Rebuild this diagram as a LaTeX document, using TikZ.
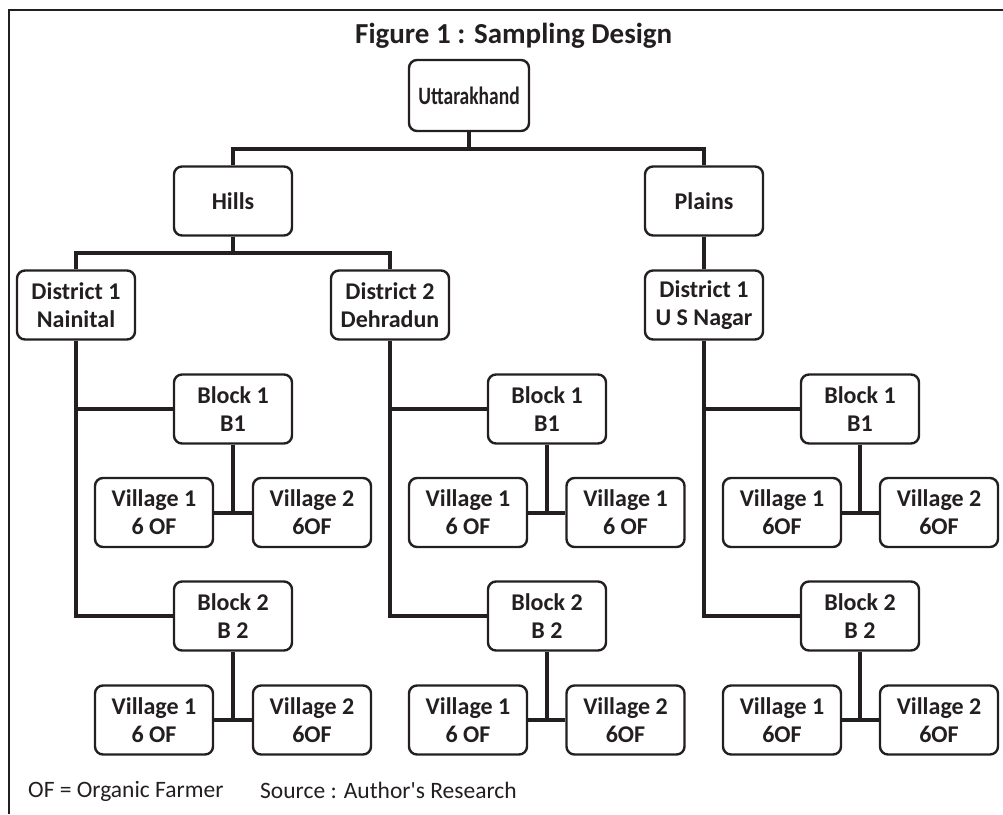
\documentclass[tikz,border=0pt]{standalone}
\usepackage{fontspec}
\setmainfont{Carlito}
\definecolor{ink}{HTML}{231F20}
\tikzset{
 box/.style={draw=ink,line width=2.4pt,rounded corners=8pt,minimum width=118pt,minimum height=69pt,
  inner sep=0pt,align=center,text=ink,font=\bfseries\fontsize{24}{28}\selectfont},
 link/.style={draw=ink,line width=4pt},
 note/.style={anchor=base west,text=ink,inner sep=0pt,font=\fontsize{23.5}{28}\selectfont}
}
\begin{document}
\begin{tikzpicture}[x=1pt,y=-1pt]
 \useasboundingbox (0,0) rectangle (1003,814);
 \draw[ink,line width=2.5pt] (9,814) -- (9,10) -- (1003,10);
 \node[anchor=base west,inner sep=0pt,text=ink,font=\bfseries\fontsize{29}{34}\selectfont] (title) at (355,43) {Figure 1 : Sampling Design};
 % state and regions
 \node[box,minimum width=120pt,minimum height=71pt] (state) at (469,95.5) {\scalebox{0.78}[1]{\fontsize{25}{28}\selectfont Uttarakhand}};
 \node[box] (hills) at (233,201) {Hills};
 \node[box] (plains) at (704,201) {Plains};
 \coordinate (sj) at (469,149);
 \draw[link] (state.south) -- (sj);
 \draw[link] (hills.north) |- (sj) -| (plains.north);
 % districts
 \node[box] (dista) at (76,305) {District 1\\Nainital};
 \node[box] (distb) at (390,305) {District 2\\Dehradun};
 \node[box] (distc) at (704,305) {District 1\\U S Nagar};
 \coordinate (hj) at (233,252.5);
 \draw[link] (hills.south) -- (hj);
 \draw[link] (dista.north) |- (hj) -| (distb.north);
 \draw[link] (plains.south) -- (distc.north);
 % blocks and villages
 \foreach \c/\bx/\lx/\rx/\ta/\tb/\tc/\td in {
   a/233/154/312/{Village 1\\6 OF}/{Village 2\\6OF}/{Village 1\\6 OF}/{Village 2\\6OF},
   b/547/468/625.5/{Village 1\\6 OF}/{Village 1\\6 OF}/{Village 1\\6 OF}/{Village 2\\6OF},
   c/860/782/939/{Village 1\\6OF}/{Village 2\\6OF}/{Village 1\\6OF}/{Village 2\\6OF}}{
  \node[box] (blka\c) at (\bx,409) {Block 1\\B1};
  \node[box] (blkb\c) at (\bx,616) {Block 2\\B 2};
  \node[box] (vila\c) at (\lx,512.5) {\ta};
  \node[box] (vilb\c) at (\rx,512.5) {\tb};
  \node[box] (vilc\c) at (\lx,720) {\tc};
  \node[box] (vild\c) at (\rx,720) {\td};
  \draw[link] (dist\c.south |- blka\c) -- (blka\c.west);
  \draw[link] (dist\c.south) |- (blkb\c.west);
  \draw[link] (blka\c.south) -- (blka\c |- vila\c);
  \draw[link] (vila\c.east) -- (vilb\c.west);
  \draw[link] (blkb\c.south) -- (blkb\c |- vilc\c);
  \draw[link] (vilc\c.east) -- (vild\c.west);
 }
 \node[note] (key) at (28,797) {OF = Organic Farmer};
 \node[note] (src) at (260,798) {Source : Author\textquotesingle s Research};
\end{tikzpicture}
\end{document}
